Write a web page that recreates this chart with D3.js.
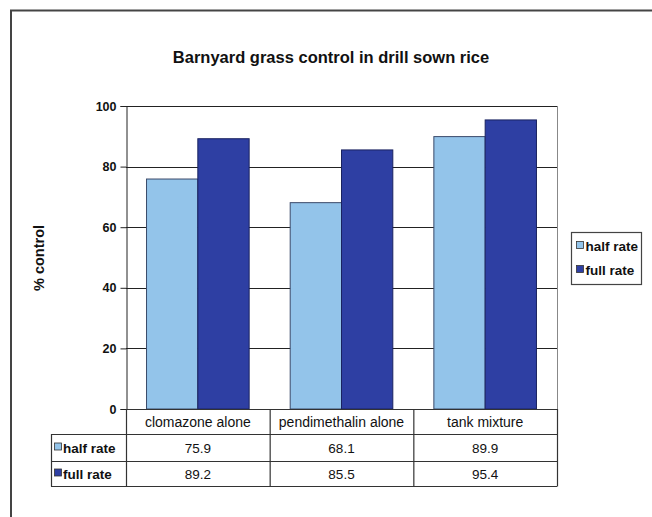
<!DOCTYPE html>
<html>
<head>
<meta charset="utf-8">
<script src="https://cdn.jsdelivr.net/npm/d3@7"></script>
<style>
  html, body { margin: 0; padding: 0; background: #ffffff; }
  svg { display: block; font-family: "Liberation Sans", Arial, sans-serif; }
</style>
</head>
<body>
<svg id="chart" width="652" height="517"></svg>
<script>
// Barnyard grass control, % of weeds controlled per herbicide treatment
const categories = ["clomazone alone", "pendimethalin alone", "tank mixture"];
const seriesNames = ["half rate", "full rate"];
const halfRate = [75.9, 68.1, 89.9];
const fullRate = [89.2, 85.5, 95.4];
const yTicks = [0, 20, 40, 60, 80, 100];

const seriesValues = [halfRate, fullRate];
const colors = ["#93c4ea", "#2e3fa3"];
const edgeColors = ["#3a4a6a", "#1a2360"];

const svg = d3.select("#chart");

// outer frame (open on right/bottom)
svg.append("path")
  .attr("d", "M11,517 L11,10.5 L652,10.5")
  .attr("fill", "none").attr("stroke", "#444").attr("stroke-width", 2);

const plot = { left: 126, right: 557, top: 106, bottom: 409 };

const x = d3.scaleBand().domain(categories).range([plot.left, plot.right]).paddingInner(0).paddingOuter(0);
const x1 = d3.scaleBand().domain(seriesNames).range([0, x.bandwidth()]).paddingInner(0).paddingOuter(0.4);
const y = d3.scaleLinear().domain([0, 100]).range([plot.bottom, plot.top]);

// title
svg.append("text")
  .attr("x", 331).attr("y", 63)
  .attr("text-anchor", "middle")
  .attr("font-size", 16.5).attr("font-weight", "bold").attr("fill", "#111")
  .text("Barnyard grass control in drill sown rice");

// gridlines
svg.append("g").selectAll("line").data(yTicks.filter(d => d > 0)).join("line")
  .attr("x1", plot.left).attr("x2", plot.right)
  .attr("y1", d => Math.round(y(d)) + 0.5).attr("y2", d => Math.round(y(d)) + 0.5)
  .attr("stroke", "#222").attr("stroke-width", 1);

// right plot border
svg.append("line")
  .attr("x1", plot.right + 0.5).attr("x2", plot.right + 0.5)
  .attr("y1", plot.top).attr("y2", plot.bottom)
  .attr("stroke", "#888").attr("stroke-width", 1);

// bars
const groups = svg.append("g").selectAll("g").data(categories).join("g")
  .attr("transform", d => `translate(${x(d)},0)`);
groups.selectAll("rect")
  .data((c, i) => seriesNames.map((s, j) => ({ s, j, v: seriesValues[j][i] })))
  .join("rect")
  .attr("x", d => x1(d.s))
  .attr("width", x1.bandwidth())
  .attr("y", d => y(d.v))
  .attr("height", d => y(0) - y(d.v))
  .attr("fill", d => colors[d.j])
  .attr("stroke", d => edgeColors[d.j]).attr("stroke-width", 1);

// y axis
const yAxis = d3.axisLeft(y).tickValues(yTicks).tickSize(6).tickPadding(4).tickFormat(d3.format("d"));
const yg = svg.append("g").attr("transform", `translate(${plot.left + 0.5},0)`).call(yAxis);
yg.select(".domain").attr("stroke", "#222");
yg.selectAll(".tick line").attr("stroke", "#222");
yg.selectAll(".tick text").attr("font-size", 12.5).attr("font-weight", "bold").attr("fill", "#111")
  .attr("font-family", "'Liberation Sans', Arial, sans-serif");

// y axis title
svg.append("text")
  .attr("transform", "translate(44,258) rotate(-90)")
  .attr("text-anchor", "middle")
  .attr("font-size", 14.5).attr("font-weight", "bold").attr("fill", "#111")
  .text("% control");

// data table under the axis
const tableLeft = 51;
const rowY = [409, 434, 461, 486];
const tbl = svg.append("g").attr("stroke", "#333").attr("stroke-width", 1.2);
// horizontal rules
tbl.append("line").attr("x1", plot.left).attr("x2", plot.right).attr("y1", rowY[0] + 0.5).attr("y2", rowY[0] + 0.5);
[1, 2, 3].forEach(r => {
  tbl.append("line").attr("x1", tableLeft).attr("x2", plot.right)
    .attr("y1", rowY[r] + 0.5).attr("y2", rowY[r] + 0.5);
});
// vertical rules
const colEdges = categories.map(c => x(c)).concat([plot.right]);
colEdges.forEach(cx => {
  tbl.append("line").attr("x1", cx + 0.5).attr("x2", cx + 0.5).attr("y1", rowY[0]).attr("y2", rowY[3] + 0.5);
});
tbl.append("line").attr("x1", tableLeft + 0.5).attr("x2", tableLeft + 0.5).attr("y1", rowY[1]).attr("y2", rowY[3] + 0.5);

// category header row
svg.append("g").selectAll("text").data(categories).join("text")
  .attr("x", d => x(d) + x.bandwidth() / 2)
  .attr("y", (rowY[0] + rowY[1]) / 2 + 5)
  .attr("text-anchor", "middle")
  .attr("font-size", 14).attr("fill", "#111")
  .text(d => d);

// value rows
seriesNames.forEach((s, j) => {
  const cy = (rowY[j + 1] + rowY[j + 2]) / 2;
  svg.append("rect")
    .attr("x", 54.5).attr("y", cy - 4.5).attr("width", 7).attr("height", 7)
    .attr("fill", colors[j]).attr("stroke", "#333").attr("stroke-width", 0.8);
  svg.append("text")
    .attr("x", 63).attr("y", cy + 5)
    .attr("font-size", 13.5).attr("font-weight", "bold").attr("fill", "#111")
    .text(s);
  svg.append("g").selectAll("text").data(seriesValues[j]).join("text")
    .attr("x", (d, i) => x(categories[i]) + x.bandwidth() / 2)
    .attr("y", cy + 5)
    .attr("text-anchor", "middle")
    .attr("font-size", 13.5).attr("fill", "#111")
    .text(d => d.toFixed(1));
});

// legend
const lg = svg.append("g");
lg.append("rect").attr("x", 571.5).attr("y", 232.5).attr("width", 70).attr("height", 52)
  .attr("fill", "#fff").attr("stroke", "#444").attr("stroke-width", 1.2);
seriesNames.forEach((s, j) => {
  const cy = 246 + j * 24;
  lg.append("rect").attr("x", 576.5).attr("y", cy - 4.5).attr("width", 7).attr("height", 7)
    .attr("fill", colors[j]).attr("stroke", "#333").attr("stroke-width", 0.8);
  lg.append("text").attr("x", 585.5).attr("y", cy + 5)
    .attr("font-size", 13.5).attr("font-weight", "bold").attr("fill", "#111")
    .text(s);
});
</script>
</body>
</html>
